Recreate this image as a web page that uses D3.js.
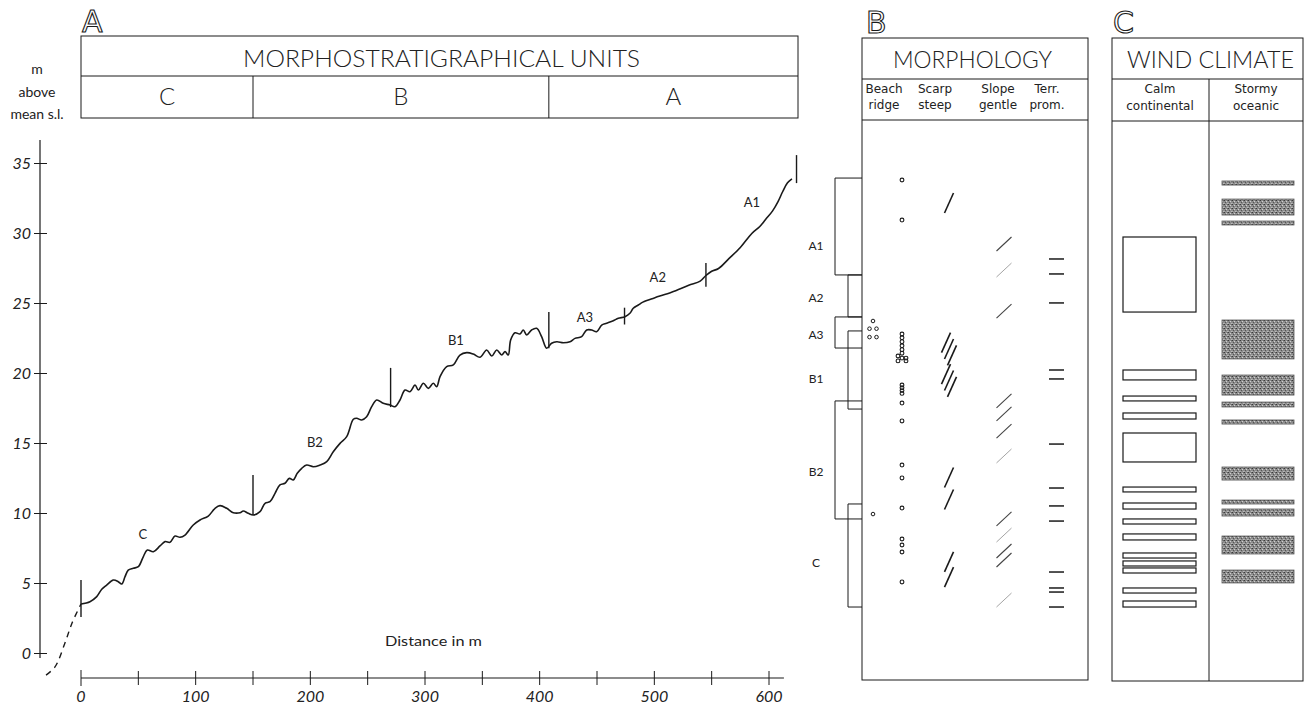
<!DOCTYPE html>
<html><head><meta charset="utf-8">
<script src="https://cdn.jsdelivr.net/npm/d3@7"></script>
<style>
body{margin:0;background:#fff}
svg{display:block}
text{font-family:Lato,'Open Sans','DejaVu Sans',sans-serif;font-weight:400;fill:#222}
</style>
</head><body>
<svg id="c" width="1308" height="708"></svg>
<script>
// ---------- DATA ----------
// Profile (distance in m, elevation in m above mean sea level)
const profileDist = [0,7.8,13.7,18.1,22.4,28.2,32.5,35.5,38.4,41.2,45.6,50.0,54.3,57.8,63.1,68.9,73.3,77.6,82.0,86.3,90.7,97.9,103.8,111.0,116.9,121.2,127.1,132.8,138.7,141.5,145.9,150.3,156.1,160.5,164.8,169.2,173.5,177.9,181.7,185.1,188.6,192.5,196.8,202.6,208.4,214.3,220.0,225.9,231.7,237.5,240.4,244.8,249.1,253.5,257.9,263.6,269.5,273.8,278.2,282.6,286.9,291.3,294.2,298.6,302.9,307.2,310.2,313.1,318.9,324.7,330.5,336.4,342.1,348.0,353.8,358.2,362.5,366.9,369.8,372.6,374.7,378.5,382.8,385.7,388.7,393.0,397.4,401.7,406.1,410.4,414.9,420.6,426.4,430.8,436.6,441.0,445.3,449.7,454.1,458.4,464.2,468.6,474.4,478.7,481.6,486.0,490,500,515,530,540,545,550,556,565,575,585,592,597,603,608,612,616,620];
const profileElev = [3.54,3.70,4.06,4.59,4.89,5.25,5.13,4.96,5.49,5.96,6.09,6.20,6.91,7.39,7.27,7.68,7.99,7.94,8.39,8.30,8.46,9.18,9.54,9.82,10.37,10.56,10.37,10.06,10.06,10.18,10.01,9.89,10.13,10.73,10.84,11.44,12.04,12.16,12.51,12.39,12.87,13.23,13.46,13.34,13.46,13.70,14.41,15.01,15.49,16.73,16.80,16.68,16.91,17.63,18.11,17.87,17.75,17.63,18.11,18.82,18.70,19.18,18.82,19.30,18.94,19.30,19.06,19.77,20.49,20.61,21.32,21.49,21.39,21.16,21.68,21.25,21.68,21.32,21.56,21.32,22.39,22.91,22.82,23.11,22.75,23.11,23.23,22.63,21.80,22.16,22.27,22.20,22.27,22.51,22.63,23.11,23.11,22.99,23.46,23.59,23.77,23.94,24.06,24.30,24.66,24.89,25.1,25.4,25.8,26.3,26.6,27.0,27.3,27.5,28.2,29.0,30.0,30.5,31.0,31.6,32.3,33.0,33.6,33.9];
// Dashed extrapolation below the surveyed profile
const extrapDist = [-30.5,-22.7,-14.0,-7.8,0];
const extrapElev = [-1.54,-0.96,0.75,2.18,3.54];
// Unit boundary markers on the profile
const boundaryDist   = [0,150,270,408,474,545,624];
const boundaryTop    = [5.25,12.75,20.4,24.4,24.7,27.9,35.6];
const boundaryBottom = [2.6,9.9,17.6,21.8,23.5,26.2,33.6];
// Subunit labels on the profile
const subunitNames   = ['C','B2','B1','A3','A2','A1'];
const subunitLblDist = [54,204,327,439.5,503,585];
const subunitLblElev = [8.5,15.1,22.4,24.0,26.9,32.2];
// Morphostratigraphical units
const unitNames = ['C','B','A'];
const unitStart = [0,150,408];
const unitEnd   = [150,408,627];
// Axis ticks
const xTicks = [0,50,100,150,200,250,300,350,400,450,500,550,600];
const xTickLabels = [0,100,200,300,400,500,600];
const yTicks = [0,5,10,15,20,25,30,35];

// Panel B: subunit bracket (elevation ranges)
const bracketNames  = ['A1','A2','A3','B1','B2','C'];
const bracketTop    = [33.96,27.04,24.04,23.04,18.04,10.68];
const bracketBottom = [27.04,24.04,21.82,17.46,9.61,3.32];
const bracketWide   = [1,0,1,0,1,0];
const bracketLblElev= [29.1,25.45,22.8,19.6,13.0,6.5];
// Panel B: morphology features (elevations)
const beachRidgeElev = [23.75,23.2,23.2,22.6,22.6,9.96];
const beachRidgeSide = [0,-1,1,-1,1,0];
const ridgeDotElev = [33.82,30.96,22.82,22.55,22.27,21.98,21.7,21.45,21.25,21.1,21.1,20.9,20.9,19.18,18.98,18.78,18.58,17.89,16.61,13.46,12.54,10.39,8.18,7.75,7.25,5.11];
const ridgeDotSide = [0,0,0,0,0,0,0,0,-1,1,0,-1,1,0,0,0,0,0,0,0,0,0,0,0,0,0];
const scarpElev  = [32.18,22.2,21.75,21.3,19.95,19.5,19.05,12.57,11.0,6.54,5.46];
const scarpShift = [0,-1,0,1,-1,0,1,0,0,0,0];
const slopeElev  = [29.25,27.39,24.46,18.04,17.11,15.89,14.11,9.61,8.46,7.32,6.68,3.82];
const slopeFaint = [0,1,0,0,0,0,1,0,1,0,0,1];
const terrElev   = [28.18,27.11,25.04,20.25,19.61,14.96,11.82,10.54,9.46,5.82,4.68,4.39,3.32];
// Panel C: wind climate periods (elevation ranges)
const calmTop    = [29.75,20.25,18.39,17.18,15.75,11.89,10.75,9.61,8.54,7.18,6.61,6.11,4.68,3.75];
const calmBottom = [24.39,19.54,18.04,16.75,13.68,11.54,10.32,9.25,8.11,6.82,6.25,5.75,4.32,3.32];
const stormTop    = [33.75,32.46,30.89,23.82,19.89,17.96,16.68,13.32,10.96,10.32,8.39,5.96];
const stormBottom = [33.46,31.32,30.61,21.04,18.46,17.61,16.39,12.39,10.68,9.82,7.11,5.04];

// ---------- DRAWING ----------
const svg = d3.select('#c');
const ink = '#1a1a1a';
const x = d3.scaleLinear().domain([0,600]).range([81,769]);
const y = d3.scaleLinear().domain([0,35]).range([653.5,163.5]);

const defs = svg.append('defs');
const pat = defs.append('pattern').attr('id','stip').attr('width',4).attr('height',4).attr('patternUnits','userSpaceOnUse');
pat.append('rect').attr('width',4).attr('height',4).attr('fill','#8c8c8c');
[[0,0,'#3a3a3a'],[2,1,'#d0d0d0'],[1,2,'#555'],[3,3,'#bbb'],[3,0,'#666'],[0,3,'#aaa']].forEach(d=>{
  pat.append('rect').attr('x',d[0]).attr('y',d[1]).attr('width',1).attr('height',1).attr('fill',d[2]);
});

function panelLetter(t,px,py){
  svg.append('text').attr('x',px).attr('y',py).text(t)
    .style('font-size','30px').style('fill','#fff').style('stroke',ink).style('stroke-width',1.1)
    .style('font-family','DejaVu Sans');
}
panelLetter('A',82,32); panelLetter('B',866,33); panelLetter('C',1113,33);

// Header box A
const hdr = svg.append('g');
hdr.append('rect').attr('x',x(0)).attr('y',36).attr('width',798-x(0)).attr('height',82)
  .attr('fill','none').attr('stroke',ink).attr('stroke-width',1);
hdr.append('line').attr('x1',x(0)).attr('x2',798).attr('y1',76).attr('y2',76).attr('stroke',ink);
hdr.append('text').attr('x',243).attr('y',67).attr('textLength',397).attr('lengthAdjust','spacingAndGlyphs')
  .style('font-size','24px').style('font-weight',300).text('MORPHOSTRATIGRAPHICAL UNITS');
unitNames.forEach((n,i)=>{
  if(i>0) hdr.append('line').attr('x1',x(unitStart[i])).attr('x2',x(unitStart[i])).attr('y1',76).attr('y2',118).attr('stroke',ink);
  const cx = (x(unitStart[i]) + Math.min(798,x(unitEnd[i])))/2;
  hdr.append('text').attr('x',cx).attr('y',105).attr('text-anchor','middle').style('font-size','24px').style('font-weight',300).text(n);
});
[['m',74],['above',97],['mean s.l.',119]].forEach(d=>{
  svg.append('text').attr('x',37).attr('y',d[1]).attr('text-anchor','middle').style('font-size','14px').text(d[0]);
});

// Y axis
const gy = svg.append('g');
gy.append('line').attr('x1',40).attr('x2',40).attr('y1',140).attr('y2',658).attr('stroke',ink).attr('stroke-width',1.2);
yTicks.forEach(t=>{
  gy.append('line').attr('x1',34).attr('x2',47).attr('y1',y(t)).attr('y2',y(t)).attr('stroke',ink);
  gy.append('text').attr('x',31).attr('y',y(t)).attr('dy','0.36em').attr('text-anchor','end')
    .style('font-size','16px').style('font-style','italic').text(t);
});

// X axis
const xAxisY = 678;
const gx = svg.append('g');
gx.append('line').attr('x1',x(0)).attr('x2',x(613)).attr('y1',xAxisY).attr('y2',xAxisY).attr('stroke',ink).attr('stroke-width',1.2);
xTicks.forEach(t=>{
  gx.append('line').attr('x1',x(t)).attr('x2',x(t)).attr('y1',xAxisY-(t===0?8:7)).attr('y2',xAxisY+(t===0?8:7)).attr('stroke',ink);
});
xTickLabels.forEach(t=>{
  gx.append('text').attr('x',x(t)).attr('y',702).attr('text-anchor','middle')
    .style('font-size','16px').style('font-style','italic').text(t);
});
svg.append('text').attr('x',385).attr('y',646).attr('textLength',97).attr('lengthAdjust','spacingAndGlyphs')
  .style('font-size','14px').text('Distance in m');

// Profile
const line = d3.line().x(d=>x(d[0])).y(d=>y(d[1])).curve(d3.curveCatmullRom.alpha(0.5));
svg.append('path').datum(profileDist.map((d,i)=>[d,profileElev[i]]))
  .attr('d',line).attr('fill','none').attr('stroke',ink).attr('stroke-width',1.6);
svg.append('path').datum(extrapDist.map((d,i)=>[d,extrapElev[i]]))
  .attr('d',line).attr('fill','none').attr('stroke',ink).attr('stroke-width',1.4).attr('stroke-dasharray','6,5');
boundaryDist.forEach((d,i)=>{
  svg.append('line').attr('x1',x(d)).attr('x2',x(d)).attr('y1',y(boundaryTop[i])).attr('y2',y(boundaryBottom[i]))
    .attr('stroke',ink).attr('stroke-width',1.4);
});
subunitNames.forEach((n,i)=>{
  svg.append('text').attr('x',x(subunitLblDist[i])).attr('y',y(subunitLblElev[i])).attr('dy','0.36em')
    .attr('text-anchor','middle').style('font-size','13px').text(n);
});

// ---------- Panel B ----------
const bL=862, bR=1088, bT=38, bB=680;
const gB = svg.append('g');
gB.append('rect').attr('x',bL).attr('y',bT).attr('width',bR-bL).attr('height',bB-bT).attr('fill','none').attr('stroke',ink);
gB.append('line').attr('x1',bL).attr('x2',bR).attr('y1',79).attr('y2',79).attr('stroke',ink);
gB.append('line').attr('x1',bL).attr('x2',bR).attr('y1',120).attr('y2',120).attr('stroke',ink);
gB.append('text').attr('x',893).attr('y',68).attr('textLength',159).attr('lengthAdjust','spacingAndGlyphs').style('font-size','24px').style('font-weight',300).text('MORPHOLOGY');
[['Beach','ridge',884],['Scarp','steep',935],['Slope','gentle',998],['Terr.','prom.',1047]].forEach(d=>{
  gB.append('text').attr('x',d[2]).attr('y',93).attr('text-anchor','middle').style('font-size','12px').style('font-family','DejaVu Sans').text(d[0]);
  gB.append('text').attr('x',d[2]).attr('y',109).attr('text-anchor','middle').style('font-size','12px').style('font-family','DejaVu Sans').text(d[1]);
});
bracketNames.forEach((n,i)=>{
  const lx = bracketWide[i] ? 835 : 848;
  gB.append('path').attr('d',`M${bL},${y(bracketTop[i])}H${lx}V${y(bracketBottom[i])}H${bL}`)
    .attr('fill','none').attr('stroke',ink).attr('stroke-width',1);
  gB.append('text').attr('x',816).attr('y',y(bracketLblElev[i])).attr('dy','0.36em').attr('text-anchor','middle')
    .style('font-size','12px').text(n);
});
beachRidgeElev.forEach((e,i)=>{
  gB.append('circle').attr('cx',873+beachRidgeSide[i]*3.5).attr('cy',y(e)).attr('r',1.8)
    .attr('fill','none').attr('stroke',ink).attr('stroke-width',1);
});
ridgeDotElev.forEach((e,i)=>{
  gB.append('circle').attr('cx',902+ridgeDotSide[i]*4).attr('cy',y(e)).attr('r',1.9)
    .attr('fill','none').attr('stroke',ink).attr('stroke-width',1.1);
});
scarpElev.forEach((e,i)=>{
  const cx = 949+scarpShift[i]*3, cy=y(e);
  gB.append('line').attr('x1',cx-4.5).attr('y1',cy+10).attr('x2',cx+4.5).attr('y2',cy-10)
    .attr('stroke',ink).attr('stroke-width',1.6);
});
slopeElev.forEach((e,i)=>{
  const cx = 1004, cy=y(e);
  gB.append('line').attr('x1',cx-7.5).attr('y1',cy+7).attr('x2',cx+7.5).attr('y2',cy-7)
    .attr('stroke',slopeFaint[i]?'#9a9a9a':'#444').attr('stroke-width',slopeFaint[i]?0.9:1.1);
});
terrElev.forEach(e=>{
  gB.append('line').attr('x1',1049).attr('x2',1064).attr('y1',y(e)).attr('y2',y(e)).attr('stroke',ink).attr('stroke-width',1.5);
});

// ---------- Panel C ----------
const cL=1112, cR=1303, cM=1209, cT=38, cB=681;
const gC = svg.append('g');
gC.append('rect').attr('x',cL).attr('y',cT).attr('width',cR-cL).attr('height',cB-cT).attr('fill','none').attr('stroke',ink);
gC.append('line').attr('x1',cL).attr('x2',cR).attr('y1',79).attr('y2',79).attr('stroke',ink);
gC.append('line').attr('x1',cL).attr('x2',cR).attr('y1',121).attr('y2',121).attr('stroke',ink);
gC.append('line').attr('x1',cM).attr('x2',cM).attr('y1',79).attr('y2',cB).attr('stroke',ink);
gC.append('text').attr('x',1127).attr('y',68).attr('textLength',167).attr('lengthAdjust','spacingAndGlyphs').style('font-size','24px').style('font-weight',300).text('WIND CLIMATE');
[['Calm','continental',1160],['Stormy','oceanic',1256]].forEach(d=>{
  gC.append('text').attr('x',d[2]).attr('y',93).attr('text-anchor','middle').style('font-size','12px').style('font-family','DejaVu Sans').text(d[0]);
  gC.append('text').attr('x',d[2]).attr('y',110).attr('text-anchor','middle').style('font-size','12px').style('font-family','DejaVu Sans').text(d[1]);
});
calmTop.forEach((t,i)=>{
  gC.append('rect').attr('x',1123).attr('width',73).attr('y',y(t)).attr('height',y(calmBottom[i])-y(t))
    .attr('fill','#fff').attr('stroke',ink).attr('stroke-width',1.2);
});
stormTop.forEach((t,i)=>{
  gC.append('rect').attr('x',1222).attr('width',72).attr('y',y(t)).attr('height',y(stormBottom[i])-y(t))
    .attr('fill','url(#stip)').attr('stroke','#555').attr('stroke-width',0.8);
});
</script>
</body></html>
